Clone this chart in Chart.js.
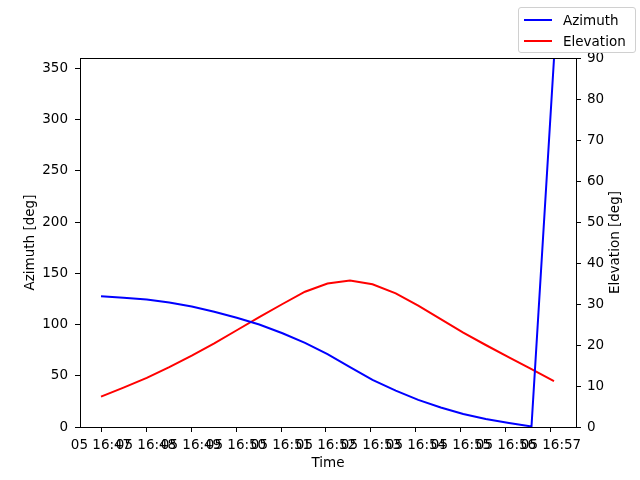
<!DOCTYPE html>
<html>
<head>
<meta charset="utf-8">
<script src="https://cdn.jsdelivr.net/npm/chart.js@4/dist/chart.umd.min.js"></script>
<style>
    html, body { margin: 0; padding: 0; background: #fff; }
    #wrap { position: relative; width: 640px; height: 480px; }
    #legend {
        position: absolute; left: 518px; top: 7px; width: 116px; height: 44px;
        border: 1px solid #d0d0d0; border-radius: 3px; background: rgba(255,255,255,0.8);
        font-family: "DejaVu Sans", sans-serif; font-size: 13.5px; color: #000;
    }
    .item { position: absolute; left: 5px; height: 18px; line-height: 18px; }
    .item span.sw { position: absolute; left: 0; top: 8px; width: 28px; height: 2px; }
    .item span.tx { position: absolute; left: 39px; top: 0; white-space: nowrap; }
</style>
</head>
<body>
<div id="wrap">
    <canvas id="chart" width="640" height="480"></canvas>
    <div id="legend">
        <div class="item" style="top:3px"><span class="sw" style="background:#0000ff"></span><span class="tx">Azimuth</span></div>
        <div class="item" style="top:24px"><span class="sw" style="background:#ff0000"></span><span class="tx">Elevation</span></div>
    </div>
</div>
<script>
// sample times (05th, HH:MM:SS)
const sampleTimes = ['16:47:00', '16:47:30', '16:48:01', '16:48:31', '16:49:01', '16:49:31', '16:50:01',
    '16:50:31', '16:51:02', '16:51:32', '16:52:02', '16:52:32', '16:53:02', '16:53:33', '16:54:03',
    '16:54:33', '16:55:03', '16:55:33', '16:56:04', '16:56:34', '16:57:04'];
const azimuth = [127.5, 126, 124.5, 121.5, 117.5, 112.5, 106.5, 100, 91.5, 82, 71, 58.5, 46, 35.5,
    26.5, 19, 12.7, 7.8, 4, 0.5, 359];
const elevation = [7.4, 9.6, 12.0, 14.6, 17.4, 20.4, 23.6, 26.8, 30.0, 33.0, 35.0, 35.7, 34.8, 32.6,
    29.6, 26.3, 23.0, 20.0, 17.0, 14.1, 11.2];

const xTickLabels = ['05 16:47', '05 16:48', '05 16:49', '05 16:50', '05 16:51', '05 16:52',
    '05 16:53', '05 16:54', '05 16:55', '05 16:56', '05 16:57'];
const azTicks = [0, 50, 100, 150, 200, 250, 300, 350];
const elTicks = [0, 10, 20, 30, 40, 50, 60, 70, 80, 90];

// minutes after 16:47:00
function toMinutes(t) {
    const p = t.split(':').map(Number);
    return (p[0] - 16) * 60 + (p[1] - 47) + p[2] / 60;
}
const xs = sampleTimes.map(toMinutes);

const FONT = { family: '"DejaVu Sans", sans-serif', size: 13.5 };

// top edge of the box + right axis title (reads bottom to top, like the left one)
const frame = {
    id: 'frame',
    afterDraw(chart) {
        const a = chart.chartArea, c = chart.ctx;
        c.save();
        c.strokeStyle = '#000';
        c.lineWidth = 1;
        c.beginPath();
        c.moveTo(a.left, Math.round(a.top) + 0.5);
        c.lineTo(a.right, Math.round(a.top) + 0.5);
        c.stroke();
        c.translate(615, (a.top + a.bottom) / 2);
        c.rotate(-Math.PI / 2);
        c.fillStyle = '#000';
        c.font = '13.5px "DejaVu Sans", sans-serif';
        c.textAlign = 'center';
        c.textBaseline = 'middle';
        c.fillText('Elevation [deg]', 0, 0);
        c.restore();
    }
};

const tickStyle = {
    drawOnChartArea: false, drawTicks: true, tickLength: 5, color: '#000', tickColor: '#000'
};

new Chart(document.getElementById('chart').getContext('2d'), {
    type: 'line',
    data: {
        datasets: [{
            label: 'Azimuth',
            data: xs.map((x, i) => ({ x: x, y: azimuth[i] })),
            borderColor: '#0000ff',
            borderWidth: 2,
            pointRadius: 0,
            tension: 0,
            yAxisID: 'y'
        }, {
            label: 'Elevation',
            data: xs.map((x, i) => ({ x: x, y: elevation[i] })),
            borderColor: '#ff0000',
            borderWidth: 2,
            pointRadius: 0,
            tension: 0,
            yAxisID: 'y2'
        }]
    },
    options: {
        responsive: false,
        animation: false,
        layout: { padding: { top: 58, left: 0, right: 0, bottom: 0 } },
        scales: {
            x: {
                type: 'linear',
                min: -0.467,
                max: 10.556,
                grid: tickStyle,
                border: { color: '#000' },
                afterBuildTicks: axis => { axis.ticks = xTickLabels.map((l, i) => ({ value: i })); },
                afterFit: axis => { axis.height = 53; },
                ticks: {
                    autoSkip: false, maxRotation: 0, minRotation: 0, color: '#000', font: FONT, padding: 5,
                    callback: (v, i) => xTickLabels[i]
                },
                title: { display: true, text: 'Time', color: '#000', font: FONT, padding: { top: 0, bottom: 8 } }
            },
            y: {
                position: 'left',
                min: 0,
                max: 360,
                grid: tickStyle,
                border: { color: '#000' },
                afterBuildTicks: axis => { axis.ticks = azTicks.map(v => ({ value: v })); },
                afterFit: axis => { axis.width = 80; },
                ticks: { color: '#000', font: FONT, padding: 7 },
                title: { display: true, text: 'Azimuth [deg]', color: '#000', font: FONT, padding: { top: 22, bottom: 0 } }
            },
            y2: {
                position: 'right',
                min: 0,
                max: 90,
                grid: tickStyle,
                border: { color: '#000' },
                afterBuildTicks: axis => { axis.ticks = elTicks.map(v => ({ value: v })); },
                afterFit: axis => { axis.width = 64; },
                ticks: { color: '#000', font: FONT, padding: 6 },
                title: { display: false }
            }
        },
        plugins: {
            legend: { display: false },
            tooltip: { enabled: false }
        }
    },
    plugins: [frame]
});
</script>
</body>
</html>
